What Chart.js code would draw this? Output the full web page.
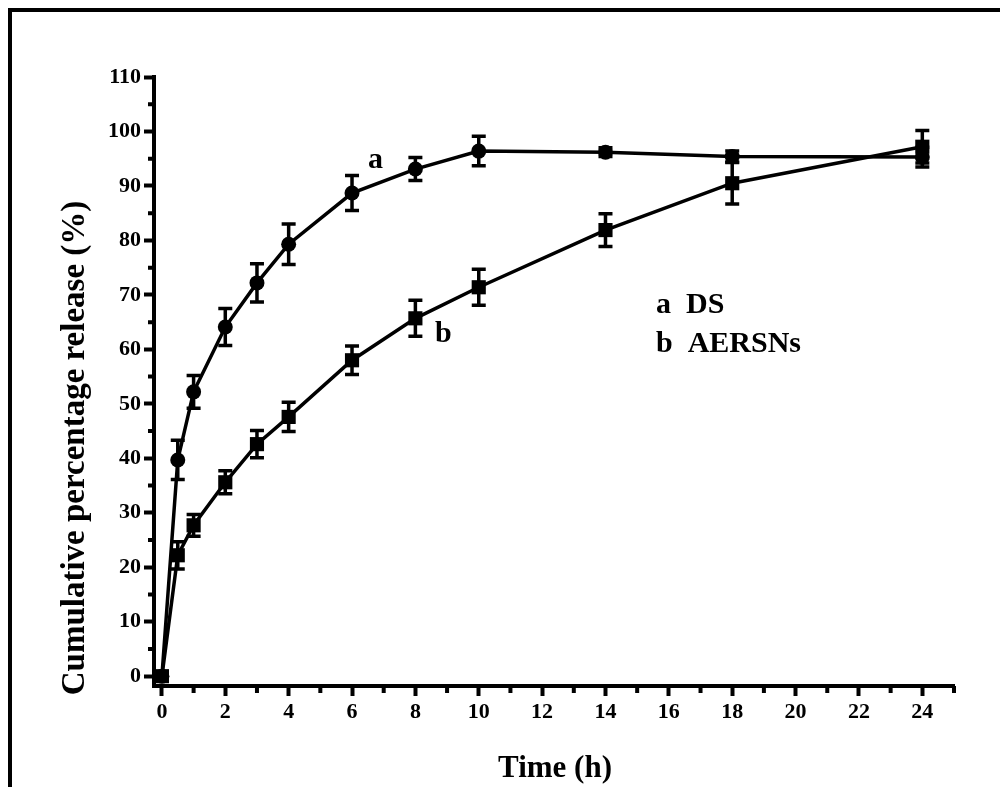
<!DOCTYPE html>
<html>
<head>
<meta charset="utf-8">
<script src="https://cdn.jsdelivr.net/npm/chart.js@4/dist/chart.umd.min.js"></script>
<style>
html, body { margin: 0; padding: 0; background: #fff; }
#box { width: 1000px; height: 787px; }
</style>
</head>
<body>
<div id="box"><canvas id="chart" width="1000" height="787"></canvas></div>
<script>
// release time points (h)
const times = [0, 0.5, 1, 2, 3, 4, 6, 8, 10, 14, 18, 24];
// a: DS
const dsRelease = [0, 39.7, 52.2, 64.1, 72.2, 79.3, 88.7, 93.1, 96.4, 96.2, 95.4, 95.3];
const dsError = [0, 3.6, 3.0, 3.4, 3.5, 3.7, 3.2, 2.1, 2.7, 0.8, 1.0, 1.8];
// b: AERSNs
const aersnRelease = [0, 22.2, 27.7, 35.6, 42.6, 47.6, 58.0, 65.7, 71.4, 81.9, 90.5, 97.2];
const aersnError = [0, 2.5, 2.0, 2.1, 2.5, 2.7, 2.6, 3.3, 3.3, 3.0, 3.8, 3.0];

const xTicks = [0, 2, 4, 6, 8, 10, 12, 14, 16, 18, 20, 22, 24];
const xMinorTicks = [1, 3, 5, 7, 9, 11, 13, 15, 17, 19, 21, 23, 25];
const yTicks = [0, 10, 20, 30, 40, 50, 60, 70, 80, 90, 100, 110];
const yMinorTicks = [5, 15, 25, 35, 45, 55, 65, 75, 85, 95, 105];

const seriesLabels = ['a  DS', 'b  AERSNs'];

const serif = '"Liberation Serif", "Times New Roman", serif';

function toPoints(ys){
    return times.map((t, i) => ({ x: t, y: ys[i] }));
}

// vertical error bars with caps
const errorBars = {
    id: 'errorBars',
    afterDatasetsDraw(chart){
        const ctx = chart.ctx;
        const ys = chart.scales.y;
        const errs = [dsError, aersnError];
        ctx.save();
        ctx.strokeStyle = '#000';
        ctx.lineWidth = 3.5;
        chart.data.datasets.forEach(function(ds, d){
            chart.getDatasetMeta(d).data.forEach(function(pt, i){
                const e = errs[d][i];
                if (!e) return;
                const v = ds.data[i].y;
                const top = ys.getPixelForValue(v + e);
                const bot = ys.getPixelForValue(v - e);
                ctx.beginPath();
                ctx.moveTo(pt.x, top); ctx.lineTo(pt.x, bot);
                ctx.moveTo(pt.x - 7, top); ctx.lineTo(pt.x + 7, top);
                ctx.moveTo(pt.x - 7, bot); ctx.lineTo(pt.x + 7, bot);
                ctx.stroke();
            });
        });
        ctx.restore();
    }
};

// minor ticks, axis titles, labels, frame
const decorations = {
    id: 'decorations',
    afterDraw(chart){
        const ctx = chart.ctx;
        const xs = chart.scales.x, ys = chart.scales.y;
        const area = chart.chartArea;
        ctx.save();
        ctx.fillStyle = '#000';
        ctx.strokeStyle = '#000';
        ctx.lineWidth = 4;
        ctx.beginPath();
        xMinorTicks.forEach(function(v){
            const px = xs.getPixelForValue(v);
            ctx.moveTo(px, area.bottom); ctx.lineTo(px, area.bottom + 7);
        });
        yMinorTicks.forEach(function(v){
            const py = ys.getPixelForValue(v);
            ctx.moveTo(area.left, py); ctx.lineTo(area.left - 6, py);
        });
        ctx.stroke();

        // outer frame
        ctx.fillRect(8, 8, 1000, 4);
        ctx.fillRect(8, 8, 4, 787);

        ctx.textAlign = 'center';
        ctx.textBaseline = 'alphabetic';
        ctx.font = 'bold 31px ' + serif;
        ctx.fillText('Time (h)', 555, 777);

        ctx.save();
        ctx.translate(84, 448);
        ctx.rotate(-Math.PI / 2);
        ctx.font = 'bold 33px ' + serif;
        ctx.fillText('Cumulative percentage release (%)', 0, 0);
        ctx.restore();

        ctx.textAlign = 'left';
        ctx.font = 'bold 30px ' + serif;
        ctx.fillText('a', 368, 168);
        ctx.fillText('b', 435, 342);
        ctx.fillText(seriesLabels[0], 656, 313);
        ctx.fillText(seriesLabels[1], 656, 352);
        ctx.restore();
    }
};

new Chart(document.getElementById('chart'), {
    type: 'line',
    data: {
        datasets: [
            {
                label: 'DS',
                data: toPoints(dsRelease),
                borderColor: '#000',
                backgroundColor: '#000',
                borderWidth: 3.5,
                pointStyle: 'circle',
                pointRadius: 7.5,
                pointBorderWidth: 0,
                tension: 0,
                clip: false
            },
            {
                label: 'AERSNs',
                data: toPoints(aersnRelease),
                borderColor: '#000',
                backgroundColor: '#000',
                borderWidth: 3.5,
                pointStyle: 'rect',
                pointRadius: 10,
                pointBorderWidth: 0,
                tension: 0,
                clip: false
            }
        ]
    },
    options: {
        responsive: false,
        animation: false,
        devicePixelRatio: 1,
        layout: { padding: { top: 77, right: 46, left: 0, bottom: 0 } },
        plugins: {
            legend: { display: false },
            tooltip: { enabled: false }
        },
        scales: {
            x: {
                type: 'linear',
                min: -0.25,
                max: 25,
                afterBuildTicks: function(s){ s.ticks = xTicks.map(v => ({ value: v })); },
                afterFit: function(s){ s.height = 101; },
                border: { display: true, color: '#000', width: 4 },
                grid: { drawOnChartArea: false, drawTicks: true, tickLength: 10, tickWidth: 4, tickColor: '#000' },
                ticks: { color: '#000', padding: 3, maxRotation: 0, font: { family: serif, size: 22, weight: 'bold' } }
            },
            y: {
                min: -1.8,
                max: 110,
                afterBuildTicks: function(s){ s.ticks = yTicks.map(v => ({ value: v })); },
                afterFit: function(s){ s.width = 154; },
                border: { display: true, color: '#000', width: 4 },
                grid: { drawOnChartArea: false, drawTicks: true, tickLength: 10, tickWidth: 4, tickColor: '#000' },
                ticks: { color: '#000', padding: 3, font: { family: serif, size: 22, weight: 'bold' } }
            }
        }
    },
    plugins: [errorBars, decorations]
});
</script>
</body>
</html>
